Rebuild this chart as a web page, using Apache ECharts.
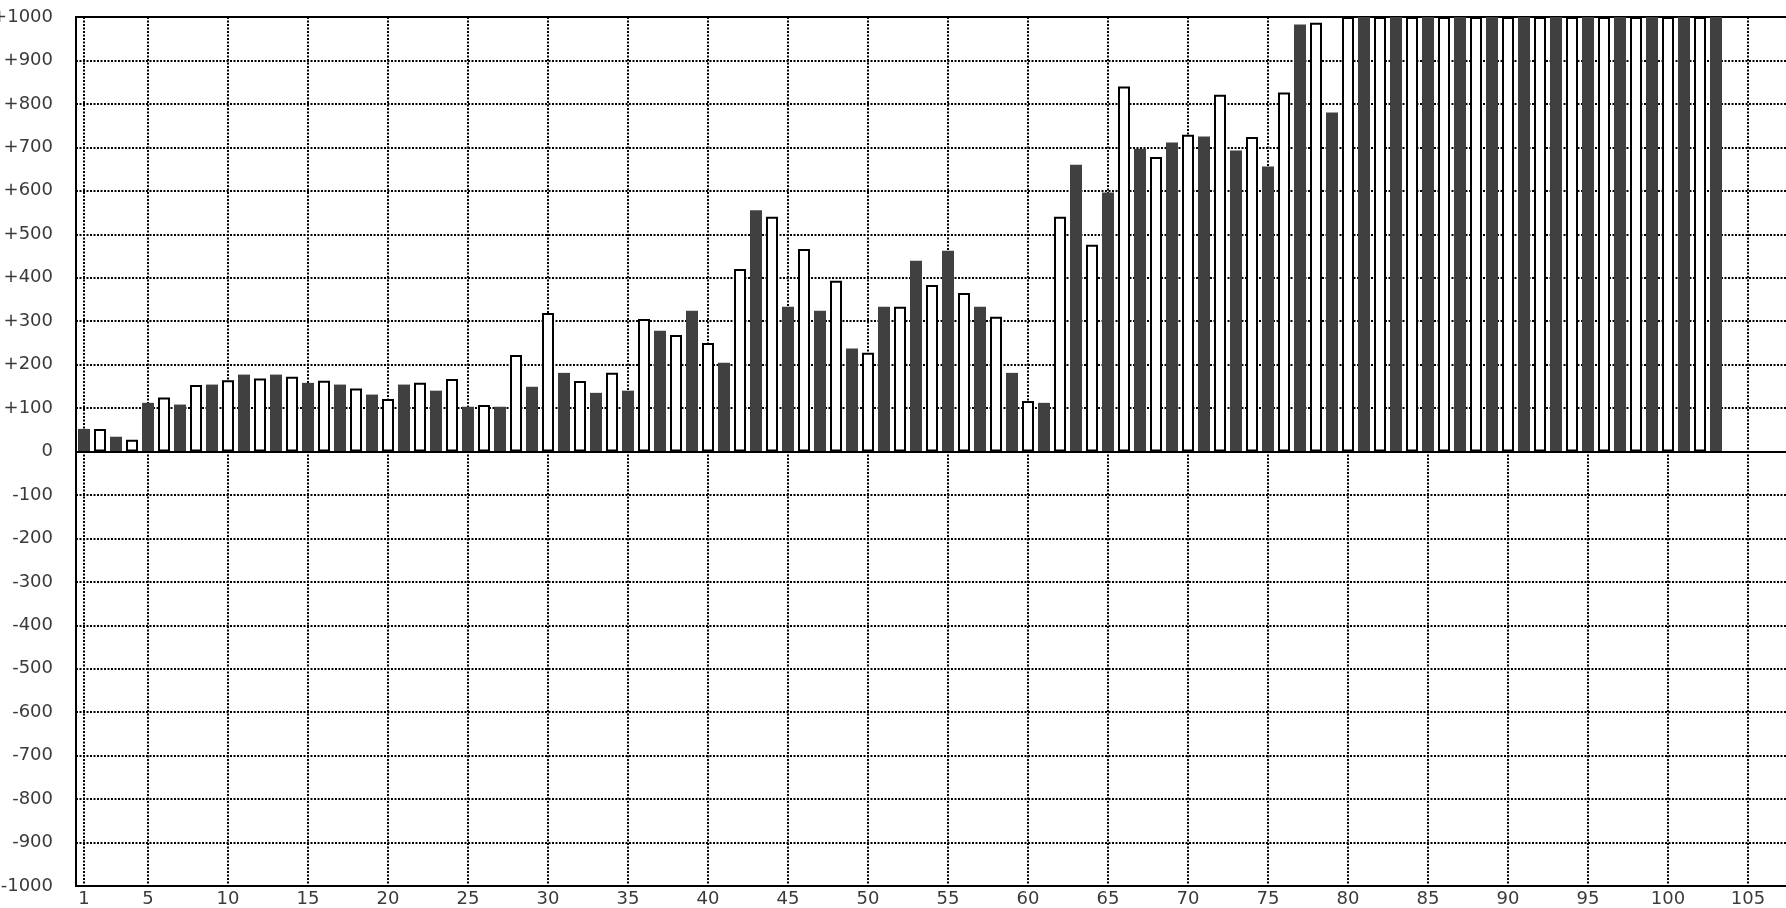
<!DOCTYPE html>
<html><head><meta charset="utf-8">
<script src="https://cdn.jsdelivr.net/npm/echarts@6/dist/echarts.min.js"></script>
<style>html,body{margin:0;padding:0;background:#fff;overflow:hidden}#c{width:1786px;height:908px}</style>
</head><body><div id="c"></div>
<script>
const categories = [1,2,3,4,5,6,7,8,9,10,11,12,13,14,15,16,17,18,19,20,21,22,23,24,25,26,27,28,29,30,
  31,32,33,34,35,36,37,38,39,40,41,42,43,44,45,46,47,48,49,50,51,52,53,54,55,56,57,58,59,60,
  61,62,63,64,65,66,67,68,69,70,71,72,73,74,75,76,77,78,79,80,81,82,83,84,85,86,87,88,89,90,
  91,92,93,94,95,96,97,98,99,100,101,102,103,104,105,106,107];
const values = [52,52,34,27,112,124,108,153,154,164,
  177,168,177,172,158,163,154,145,131,121,
  154,158,140,167,103,107,103,222,149,319,
  181,162,135,181,140,305,278,268,324,250,
  204,420,555,540,333,466,324,393,237,227,
  333,333,439,383,462,365,333,310,181,116,
  112,540,660,476,596,840,697,678,711,729,
  725,821,693,724,656,826,983,987,780,1000,
  1000,1000,1000,1000,1000,1000,1000,1000,1000,1000,
  1000,1000,1000,1000,1000,1000,1000,1000,1000,1000,
  1000,1000,1000];
const labeledCategories = [1,5,10,15,20,25,30,35,40,45,50,55,60,65,70,75,80,85,90,95,100,105];
const yMin = -1000, yMax = 1000, yStep = 100;

const darkData = values.map((v, i) => (i % 2 === 0 ? v : '-'));
const lightData = values.map((v, i) => (i % 2 === 1 ? v : '-'));

const font = 'DejaVu Sans';
const dotted = { color: '#000', width: 2, type: [2, 1.5] };
const showCat = (idx, val) => labeledCategories.indexOf(Number(val)) >= 0;

const chart = echarts.init(document.getElementById('c'), null, { renderer: 'canvas' });
chart.setOption({
  animation: false,
  backgroundColor: '#fff',
  grid: { left: 76, top: 17, right: -2, bottom: 22, show: true, borderColor: '#000', borderWidth: 2,
          backgroundColor: 'transparent', containLabel: false, outerBoundsMode: 'none' },
  xAxis: {
    type: 'category', data: categories, boundaryGap: true,
    axisLine: { show: false }, axisTick: { show: false },
    axisLabel: { interval: showCat, color: '#3a3a3a', fontFamily: font, fontSize: 18, margin: 4 },
    splitLine: { show: true, interval: showCat, alignWithLabel: true, lineStyle: dotted }
  },
  yAxis: {
    type: 'value', min: yMin, max: yMax, interval: yStep,
    axisLine: { show: false }, axisTick: { show: false },
    axisLabel: { color: '#3a3a3a', fontFamily: font, fontSize: 18, margin: 23,
                 formatter: v => (v > 0 ? '+' + v : String(v)) },
    splitLine: { show: true, lineStyle: dotted }
  },
  series: [
    { type: 'bar', data: darkData, barWidth: 12, barGap: '-100%',
      itemStyle: { color: '#404040' },
      markLine: { silent: true, symbol: 'none', label: { show: false },
                  lineStyle: { color: '#000', width: 2, type: 'solid' }, data: [{ yAxis: 0 }] } },
    { type: 'bar', data: lightData, barWidth: 12, barGap: '-100%',
      itemStyle: { color: '#fff', borderColor: '#000', borderWidth: 2 } }
  ]
});
</script></body></html>
